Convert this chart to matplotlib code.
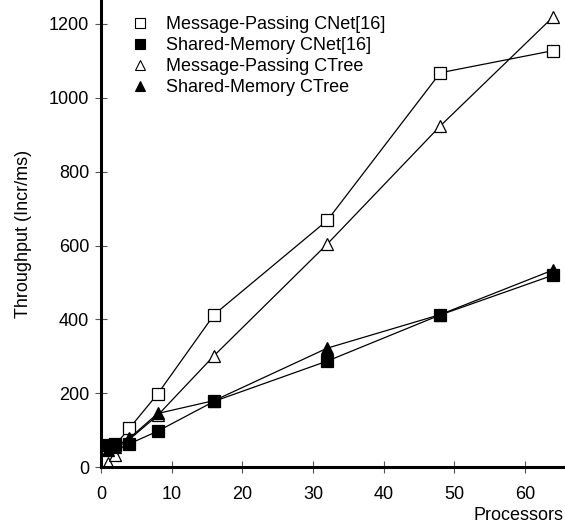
import matplotlib
matplotlib.use('Agg')
import matplotlib.pyplot as plt

plt.rcParams['font.family'] = ['Liberation Sans', 'DejaVu Sans']

procs = [1, 2, 4, 8, 16, 32, 48, 64]
mp_cnet = [50, 60, 105, 198, 413, 668, 1068, 1128]
sm_cnet = [60, 62, 63, 97, 178, 287, 412, 520]
mp_ctree = [12, 32, 75, 140, 302, 604, 924, 1220]
sm_ctree = [45, 55, 78, 145, 180, 322, 413, 534]

series = [
    ('Message-Passing CNet[16]', mp_cnet, 's', 'white'),
    ('Shared-Memory CNet[16]', sm_cnet, 's', 'black'),
    ('Message-Passing CTree', mp_ctree, '^', 'white'),
    ('Shared-Memory CTree', sm_ctree, '^', 'black'),
]

fig = plt.figure(figsize=(5.65, 5.31), dpi=100)
ax = fig.add_axes([0.179, 0.1205, 0.818, 0.8795])

for label, vals, mk, fc in series:
    ax.plot(procs, vals, color='black', lw=0.9, marker=mk, markersize=9,
            markerfacecolor=fc, markeredgecolor='black', markeredgewidth=0.9,
            label=label)

ax.set_xlim(0, 65.4)
ax.set_ylim(0, 1265)
ax.set_xticks([0, 10, 20, 30, 40, 50, 60])
ax.set_yticks([0, 200, 400, 600, 800, 1000, 1200])

for s in ['top', 'right']:
    ax.spines[s].set_visible(False)
for s in ['left', 'bottom']:
    ax.spines[s].set_linewidth(2.2)
ax.tick_params(direction='inout', length=9, width=0.8, color='#555555',
               labelsize=13)
ax.tick_params(axis='x', pad=9)
ax.tick_params(axis='y', pad=4)

ax.set_ylabel('Throughput (Incr/ms)', fontsize=13, labelpad=12)
ax.set_xlabel('Processors', fontsize=13, loc='right', labelpad=3)

handles, labels = ax.get_legend_handles_labels()
leg_handles = []
for h in handles:
    lh = plt.Line2D([], [], linestyle='none', marker=h.get_marker(), markersize=6.5,
                    markerfacecolor=h.get_markerfacecolor(), markeredgecolor='black',
                    markeredgewidth=0.8)
    leg_handles.append(lh)
ax.legend(leg_handles, labels, loc='upper left', bbox_to_anchor=(0.03, 1.0),
          frameon=False, fontsize=13, handletextpad=0.9, labelspacing=0.22,
          handlelength=1.0)

fig.savefig('out.png', dpi=100)
